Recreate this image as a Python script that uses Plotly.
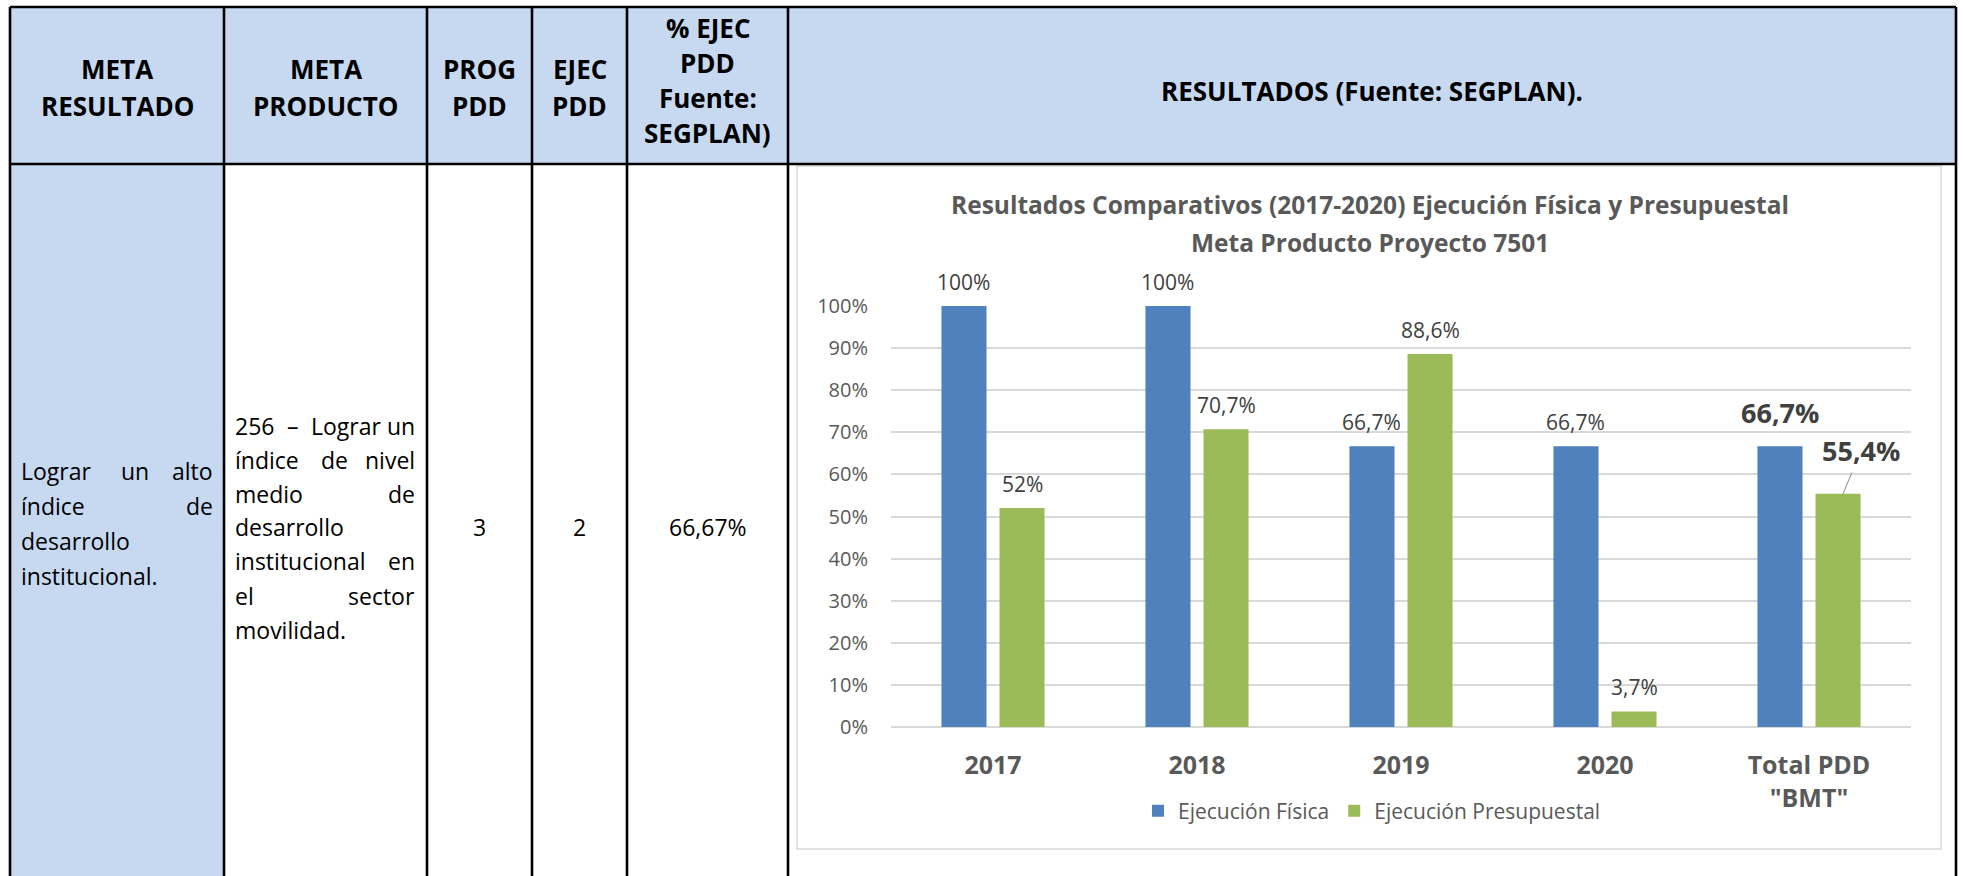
import plotly.graph_objects as go

W, H = 1963, 876

# ---------------- data ----------------
categories = ["2017", "2018", "2019", "2020", 'Total PDD<br>"BMT"']
fisica = [1.0, 1.0, 0.667, 0.667, 0.667]
presupuestal = [0.52, 0.707, 0.886, 0.037, 0.554]
fisica_labels = ["100%", "100%", "66,7%", "66,7%", "66,7%"]
presup_labels = ["52%", "70,7%", "88,6%", "3,7%", "55,4%"]
y_tick_vals = [0, 0.1, 0.2, 0.3, 0.4, 0.5, 0.6, 0.7, 0.8, 0.9, 1.0]

series_names = ["Ejecución Física", "Ejecución Presupuestal"]
chart_title_1 = "Resultados Comparativos (2017-2020) Ejecución Física y Presupuestal"
chart_title_2 = "Meta Producto Proyecto 7501"

header_lines = [["META", "RESULTADO"], ["META", "PRODUCTO"], ["PROG", "PDD"], ["EJEC", "PDD"],
                ["% EJEC", "PDD", "Fuente:", "SEGPLAN)"], ["RESULTADOS (Fuente: SEGPLAN)."]]
meta_resultado_lines = [["Lograr", "un", "alto"], ["índice", "de"], ["desarrollo"], ["institucional."]]
meta_resultado_justify = [True, True, False, False]
meta_producto_lines = [["256", "–", "Lograr", "un"], ["índice", "de", "nivel"], ["medio", "de"],
                       ["desarrollo"], ["institucional", "en"], ["el", "sector"], ["movilidad."]]
meta_producto_justify = [True, True, True, False, True, True, False]
prog_pdd = "3"
ejec_pdd = "2"
pct_ejec = "66,67%"

# ---------------- styles / layout geometry ----------------
BLUE, GREEN = "#4F81BD", "#9BBB59"
HEAD_FILL = "#C6D9F1"
FONT = "Open Sans"
GRAY = "#595959"
LABEL = "#404040"

col_edges = [10, 224, 427, 532, 627, 788, 1956]
table_top, header_bottom = 7, 164
plot_x0, plot_x1, plot_y0, plot_y1 = 891, 1911, 306, 727
BARGAP, BARGROUPGAP = 0.431, 0.224
header_line_y = {1: [91], 2: [69, 106], 4: [28, 63, 98, 133]}


def px(x):
    return x / W


def py(y):
    return 1 - y / H


fig = go.Figure()
fig.add_bar(x=categories, y=fisica, name=series_names[0], marker_color=BLUE,
            marker_line_width=0, hoverinfo="skip")
fig.add_bar(x=categories, y=presupuestal, name=series_names[1], marker_color=GREEN,
            marker_line_width=0, hoverinfo="skip")

shapes = []
shapes.append(dict(type="rect", xref="paper", yref="paper", x0=px(col_edges[0]), x1=px(col_edges[-1]),
                   y0=py(header_bottom), y1=py(table_top), fillcolor=HEAD_FILL, line_width=0, layer="below"))
shapes.append(dict(type="rect", xref="paper", yref="paper", x0=px(col_edges[0]), x1=px(col_edges[1]),
                   y0=py(H), y1=py(header_bottom), fillcolor=HEAD_FILL, line_width=0, layer="below"))
shapes.append(dict(type="rect", xref="paper", yref="paper", x0=px(797), x1=px(1941),
                   y0=py(849), y1=py(166), fillcolor="white", line=dict(color="#D9D9D9", width=1.5),
                   layer="below"))
LW = 2.6
for yy in [table_top, header_bottom]:
    shapes.append(dict(type="line", xref="paper", yref="paper", x0=px(col_edges[0]), x1=px(col_edges[-1]),
                       y0=py(yy), y1=py(yy), line=dict(color="black", width=LW)))
for xx in col_edges:
    shapes.append(dict(type="line", xref="paper", yref="paper", x0=px(xx), x1=px(xx),
                       y0=py(table_top), y1=py(H + 2), line=dict(color="black", width=LW)))

annotations = []
for i, lines in enumerate(header_lines):
    cx = (col_edges[i] + col_edges[i + 1]) / 2
    for t, yy in zip(lines, header_line_y[len(lines)]):
        annotations.append(dict(xref="paper", yref="paper", x=px(cx), y=py(yy), text=f"<b>{t}</b>",
                                showarrow=False, xanchor="center", yanchor="middle",
                                font=dict(family=FONT, size=26, color="black")))

BODY_SIZE = 23
CW = {"i": 0.26, "l": 0.26, "j": 0.26, ".": 0.27, ",": 0.27, "í": 0.26, "r": 0.41, "t": 0.35,
      "f": 0.33, "m": 0.93, "–": 0.5, "L": 0.52, "2": 0.57, "5": 0.57, "6": 0.57}


def word_w(w):
    return sum(CW.get(c, 0.56) for c in w) * BODY_SIZE


def body_ann(x, y, text, anchor):
    annotations.append(dict(xref="paper", yref="paper", x=px(x), y=py(y), text=text,
                            showarrow=False, xanchor=anchor, yanchor="middle",
                            font=dict(family=FONT, size=BODY_SIZE, color="black")))


def add_justified(lines, justify, xl, xr, ys):
    for words, jus, yy in zip(lines, justify, ys):
        if not jus or len(words) == 1:
            body_ann(xl, yy, " ".join(words), "left")
            continue
        widths = [word_w(w) for w in words]
        gap = ((xr - xl) - sum(widths)) / (len(words) - 1)
        x = xl
        for k, (w, ww) in enumerate(zip(words, widths)):
            if k == len(words) - 1:
                body_ann(xr, yy, w, "right")
            else:
                body_ann(x, yy, w, "left")
            x += ww + gap


add_justified(meta_resultado_lines, meta_resultado_justify, 19, 215, [471, 506, 541, 576])
add_justified(meta_producto_lines, meta_producto_justify, 233, 417, [426, 460, 494, 527, 561, 596, 630])
for i, t in zip([2, 3, 4], [prog_pdd, ejec_pdd, pct_ejec]):
    cx = (col_edges[i] + col_edges[i + 1]) / 2
    body_ann(cx, 527, t, "center")

annotations.append(dict(xref="paper", yref="paper", x=px(1370), y=py(204), text=f"<b>{chart_title_1}</b>",
                        showarrow=False, xanchor="center", yanchor="middle",
                        font=dict(family=FONT, size=24.5, color=GRAY)))
annotations.append(dict(xref="paper", yref="paper", x=px(1370), y=py(242), text=f"<b>{chart_title_2}</b>",
                        showarrow=False, xanchor="center", yanchor="middle",
                        font=dict(family=FONT, size=24.5, color=GRAY)))

# data labels: placed at each bar (category index, value), offset by half a bar slot
cat_px = (plot_x1 - plot_x0) / len(categories)
slot = cat_px * (1 - BARGAP) / 2
off = slot / 2
n = len(categories)
for i in range(n):
    last = i == n - 1
    annotations.append(dict(x=i, y=fisica[i], xref="x", yref="y", xshift=-off,
                            yshift=34 if last else 24, showarrow=False, xanchor="center", yanchor="middle",
                            text=f"<b>{fisica_labels[i]}</b>" if last else fisica_labels[i],
                            font=dict(family=FONT, size=27 if last else 21, color=LABEL)))
    if not last:
        annotations.append(dict(x=i, y=presupuestal[i], xref="x", yref="y", xshift=off,
                                yshift=24, showarrow=False, xanchor="center", yanchor="middle",
                                text=presup_labels[i], font=dict(family=FONT, size=21, color=LABEL)))
    else:
        annotations.append(dict(x=i, y=presupuestal[i], xref="x", yref="y", xshift=off + 5,
                                showarrow=True, arrowhead=0, arrowwidth=1, arrowcolor="#8C8C8C",
                                ax=18, ay=-43, axref="pixel", ayref="pixel", startstandoff=2,
                                text=f"<b>{presup_labels[i]}</b>",
                                font=dict(family=FONT, size=27, color=LABEL)))

fig.update_layout(
    width=W, height=H,
    margin=dict(l=0, r=0, t=0, b=0, pad=0, autoexpand=False),
    paper_bgcolor="white", plot_bgcolor="rgba(0,0,0,0)",
    barmode="group", bargap=BARGAP, bargroupgap=BARGROUPGAP,
    shapes=shapes, annotations=annotations,
    showlegend=True,
    legend=dict(orientation="h", x=px(1372), xanchor="center", y=py(811), yanchor="middle",
                font=dict(family=FONT, size=21, color=GRAY), bgcolor="rgba(0,0,0,0)",
                itemclick=False, itemdoubleclick=False),
    font=dict(family=FONT),
    xaxis=dict(type="category", domain=[px(plot_x0), px(plot_x1)], range=[-0.5, len(categories) - 0.5],
               showgrid=False, showline=False, automargin=False,
               ticks="", tickfont=dict(family=FONT, size=25, color=GRAY), ticklabelstandoff=21,
               tickprefix="<b>", ticksuffix="</b>", fixedrange=True),
    yaxis=dict(domain=[py(plot_y1), py(plot_y0)], range=[0, 1.0], tickvals=y_tick_vals, automargin=False,
               tickformat=".0%", showgrid=True, gridcolor="#D9D9D9", gridwidth=1.5,
               zeroline=True, zerolinecolor="#D9D9D9", zerolinewidth=1.5, showline=False, ticks="",
               tickfont=dict(family=FONT, size=20, color=GRAY), ticklabelstandoff=22, fixedrange=True),
)

fig.write_html("out.html", config={"displayModeBar": False},
               post_script="document.body.style.margin='0';document.body.style.overflow='hidden';")
